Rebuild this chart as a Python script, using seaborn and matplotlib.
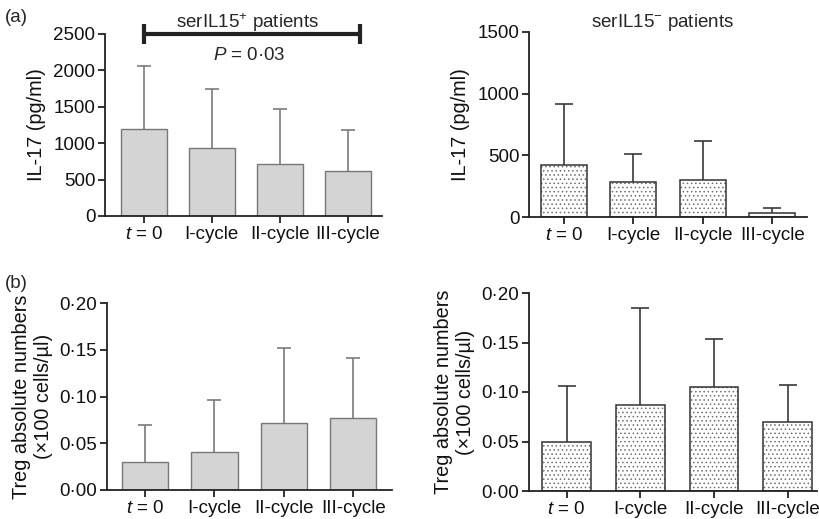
import numpy as np
import pandas as pd
import matplotlib
matplotlib.use("Agg")
import matplotlib.pyplot as plt
import seaborn as sns
from matplotlib.ticker import FuncFormatter

# Data
cycles = ["$t$ = 0", "I-cycle", "II-cycle", "III-cycle"]

il17_pos_mean = [1190, 940, 720, 620]
il17_pos_top = [2060, 1750, 1465, 1185]
il17_neg_mean = [418, 285, 300, 35]
il17_neg_top = [915, 510, 618, 73]

treg_pos_mean = [0.030, 0.041, 0.072, 0.077]
treg_pos_top = [0.069, 0.096, 0.152, 0.141]
treg_neg_mean = [0.050, 0.087, 0.105, 0.070]
treg_neg_top = [0.106, 0.185, 0.154, 0.107]

sns.set_theme(style="ticks")
plt.rcParams["font.family"] = ["Liberation Sans", "DejaVu Sans"]
plt.rcParams["mathtext.fontset"] = "custom"
plt.rcParams["mathtext.rm"] = "Liberation Sans"
plt.rcParams["mathtext.it"] = "Liberation Sans:italic"
plt.rcParams["hatch.linewidth"] = 0.6

FS = 13.5
W, H = 819, 519
fig = plt.figure(figsize=(W / 100, H / 100), dpi=100)


def add_ax(l, r, t, b):
    return fig.add_axes([l / W, 1 - b / H, (r - l) / W, (b - t) / H])


def dot_fmt(v, pos):
    return f"{v:.2f}".replace(".", "·")


def panel(ax, means, tops, hatched, ylim, yticks, xlim, ylabel, fmt=None):
    df = pd.DataFrame({"cycle": cycles, "value": means})
    if hatched:
        # dotted fill first, then a dark outline on top
        sns.barplot(data=df, x="cycle", y="value", ax=ax, color="white",
                    edgecolor="#6e6e6e", linewidth=0, width=0.66,
                    errorbar=None, hatch="....")
        sns.barplot(data=df, x="cycle", y="value", ax=ax, color="#333333",
                    fill=False, linewidth=1.1, width=0.66, errorbar=None)
        ecol = "#3a3a3a"
        cap = 13
    else:
        sns.barplot(data=df, x="cycle", y="value", ax=ax, color="#d4d4d4",
                    saturation=1, edgecolor="#777777", linewidth=1.0,
                    width=0.67, errorbar=None)
        ecol = "#7a7a7a"
        cap = 10
    x = np.arange(len(means))
    ax.vlines(x, means, tops, color=ecol, lw=1.2, zorder=1)
    ax.plot(x, tops, ls="none", marker="_", markersize=cap,
            markeredgewidth=1.2, color=ecol, zorder=1)
    ax.set_ylim(*ylim)
    ax.set_yticks(yticks)
    ax.set_xlim(*xlim)
    if fmt:
        ax.yaxis.set_major_formatter(FuncFormatter(fmt))
    ax.set_xlabel("")
    ax.set_ylabel(ylabel, fontsize=14.3, labelpad=5, color="#111111",
                  linespacing=1.15)
    ax.tick_params(axis="both", labelsize=FS, length=5, width=1.3,
                   color="#222222", labelcolor="#111111", pad=2)
    sns.despine(ax=ax)
    for s in ["left", "bottom"]:
        ax.spines[s].set_linewidth(1.3)
        ax.spines[s].set_color("#222222")


ax1 = add_ax(105, 382, 34, 216)
panel(ax1, il17_pos_mean, il17_pos_top, False, (0, 2500),
      [0, 500, 1000, 1500, 2000, 2500], (-0.57, 3.5), "IL-17 (pg/ml)")
ax1.plot([0, 3.18], [2500, 2500], color="#222222", lw=3, clip_on=False,
         marker="|", markersize=15, markeredgewidth=3)
ax1.text(1.53, 2655, "serIL15$^{+}$ patients", ha="center", va="center",
         fontsize=FS)
ax1.text(1.55, 2200, "$P$ = 0·03", ha="center", va="center", fontsize=FS)

ax2 = add_ax(529, 807, 32, 217)
panel(ax2, il17_neg_mean, il17_neg_top, True, (0, 1500),
      [0, 500, 1000, 1500], (-0.5, 3.5), "IL-17 (pg/ml)")
ax2.text(1.42, 1580, "serIL15$^{-}$ patients", ha="center", va="center",
         fontsize=FS)

ax3 = add_ax(107, 392, 303, 490)
panel(ax3, treg_pos_mean, treg_pos_top, False, (0, 0.20),
      [0, 0.05, 0.10, 0.15, 0.20], (-0.55, 3.56),
      "Treg absolute numbers\n(×100 cells/µl)", dot_fmt)

ax4 = add_ax(529, 817, 293, 491)
panel(ax4, treg_neg_mean, treg_neg_top, True, (0, 0.20),
      [0, 0.05, 0.10, 0.15, 0.20], (-0.51, 3.4),
      "Treg absolute numbers\n(×100 cells/µl)", dot_fmt)

fig.text(5 / W, 1 - 18 / H, "(a)", fontsize=FS, va="center")
fig.text(5 / W, 1 - 283 / H, "(b)", fontsize=FS, va="center")

plt.savefig("out.png", dpi=100)
